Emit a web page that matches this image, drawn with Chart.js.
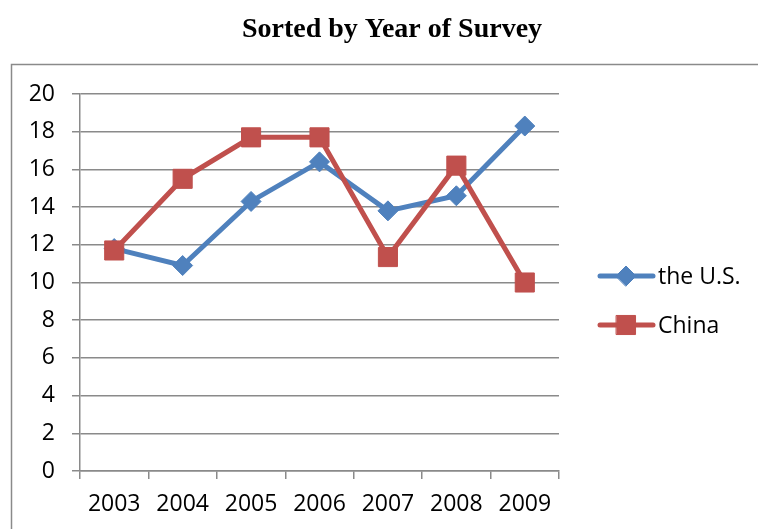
<!DOCTYPE html>
<html>
<head>
<meta charset="utf-8">
<script src="https://cdn.jsdelivr.net/npm/chart.js@4/dist/chart.umd.min.js"></script>
<style>
  html, body { margin: 0; padding: 0; background: #fff; }
  #wrap { width: 758px; height: 529px; position: relative; }
</style>
</head>
<body>
<div id="wrap"><canvas id="Chart" width="758" height="529"></canvas></div>
<script>
// data
const years = ["2003", "2004", "2005", "2006", "2007", "2008", "2009"];
const usValues = [11.8, 10.9, 14.3, 16.4, 13.8, 14.6, 18.3];
const chinaValues = [11.7, 15.5, 17.7, 17.7, 11.35, 16.2, 10.0];
const yTicks = [0, 2, 4, 6, 8, 10, 12, 14, 16, 18, 20];
const chartTitle = "Sorted by Year of Survey";

const GRID = "#8a8a8a";
const LABEL_FONT = { family: "'Open Sans'", size: 23 };

// outer frame (cropped at right and bottom) and the title above it
const framePlugin = {
  id: "frame",
  beforeDraw(chart) {
    const ctx = chart.ctx;
    ctx.save();
    ctx.strokeStyle = "#8a8a8a";
    ctx.lineWidth = 1.5;
    ctx.strokeRect(11.5, 64.5, 900, 700);
    ctx.fillStyle = "#000";
    ctx.font = "bold 28px 'Liberation Serif'";
    ctx.textAlign = "center";
    ctx.textBaseline = "alphabetic";
    ctx.fillText(chartTitle, 392, 37);
    ctx.restore();
  },
};

// excel style legend: line + marker + text
const legendPlugin = {
  id: "sideLegend",
  afterDraw(chart) {
    const ctx = chart.ctx;
    const rows = [276, 325];
    ctx.save();
    chart.data.datasets.forEach((ds, i) => {
      const y = rows[i];
      ctx.strokeStyle = ds.borderColor;
      ctx.lineWidth = ds.borderWidth;
      ctx.lineCap = "round";
      ctx.beginPath();
      ctx.moveTo(600, y);
      ctx.lineTo(653, y);
      ctx.stroke();
      ctx.fillStyle = ds.backgroundColor;
      ctx.lineWidth = 1;
      Chart.helpers.drawPoint(ctx, { pointStyle: ds.pointStyle, radius: ds.pointRadius, borderWidth: 1 }, 626, y);
      ctx.fillStyle = "#000";
      ctx.font = "23px 'Open Sans'";
      ctx.textBaseline = "middle";
      ctx.textAlign = "left";
      ctx.fillText(ds.label, 658, y + 1);
    });
    ctx.restore();
  },
};

new Chart(document.getElementById("Chart"), {
  type: "line",
  data: {
    labels: years,
    datasets: [
      {
        label: "the U.S.",
        data: usValues,
        order: 1,
        borderColor: "#4F81BD",
        backgroundColor: "#4F81BD",
        borderWidth: 5,
        pointStyle: "rectRot",
        pointRadius: 10,
        pointBorderWidth: 1,
        pointBorderColor: "#4F81BD",
        tension: 0,
      },
      {
        label: "China",
        data: chinaValues,
        order: 0, // drawn on top, as in the picture
        borderColor: "#C0504D",
        backgroundColor: "#C0504D",
        borderWidth: 5,
        pointStyle: "rect",
        pointRadius: 13.5,
        pointBorderWidth: 1,
        pointBorderColor: "#C0504D",
        tension: 0,
      },
    ],
  },
  options: {
    responsive: false,
    animation: false,
    layout: { padding: { left: 0, right: 199, top: 94, bottom: 0 } },
    scales: {
      x: {
        offset: true,
        grid: {
          offset: true,
          drawOnChartArea: false,
          tickLength: 8,
          color: GRID,
          lineWidth: 1.5,
        },
        border: { color: GRID, width: 1.5 },
        ticks: { font: LABEL_FONT, color: "#000", padding: 12, maxRotation: 0 },
        afterFit(scale) {
          scale.height = 58;
        },
      },
      y: {
        min: 0,
        max: 20,
        afterBuildTicks(scale) {
          scale.ticks = yTicks.map((v) => ({ value: v }));
        },
        grid: { tickLength: 8, color: GRID, lineWidth: 1.5 },
        border: { color: GRID, width: 1.5 },
        ticks: { font: LABEL_FONT, color: "#000", padding: 17 },
        afterFit(scale) {
          scale.width = 80;
        },
      },
    },
    plugins: {
      legend: { display: false },
      tooltip: { enabled: false },
      title: { display: false },
    },
  },
  plugins: [framePlugin, legendPlugin],
});
</script>
</body>
</html>
